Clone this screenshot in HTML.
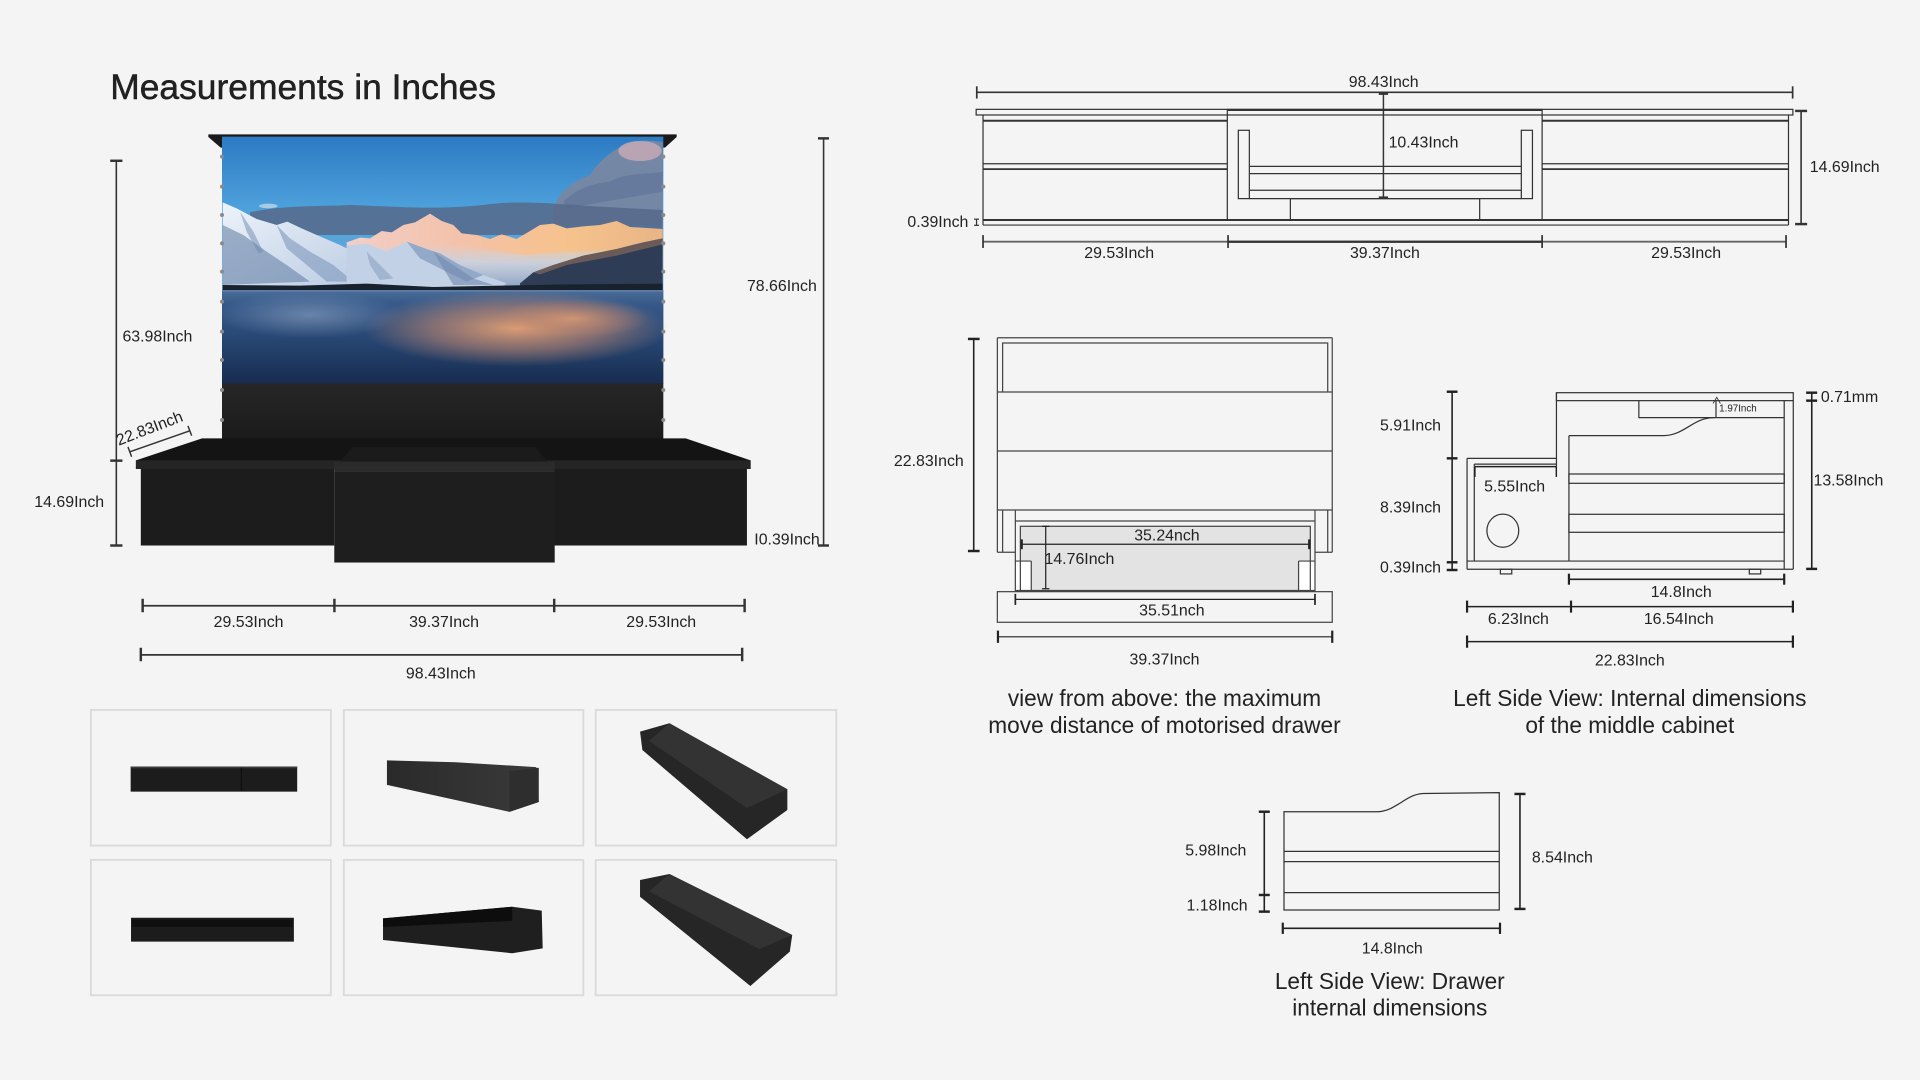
<!DOCTYPE html>
<html><head><meta charset="utf-8"><style>
html,body{margin:0;padding:0;background:#f4f4f4;}
svg{display:block;}
text{font-family:"Liberation Sans",sans-serif;fill:#222;}
</style></head><body>
<svg width="1920" height="1080" viewBox="0 0 1568 882" xmlns="http://www.w3.org/2000/svg">
<defs>
<linearGradient id="sky" x1="0" y1="0" x2="0" y2="1">
<stop offset="0" stop-color="#2c7bc3"/><stop offset="0.3" stop-color="#4ea2dc"/><stop offset="0.6" stop-color="#6aaad8"/><stop offset="1" stop-color="#8fb3d3"/></linearGradient>
<linearGradient id="water" x1="0" y1="0" x2="0" y2="1">
<stop offset="0" stop-color="#4a6d98"/><stop offset="0.15" stop-color="#36598a"/><stop offset="0.6" stop-color="#24426e"/><stop offset="1" stop-color="#182c4e"/></linearGradient>
<radialGradient id="refl" cx="0.5" cy="0.5" r="0.5">
<stop offset="0" stop-color="#f0a672" stop-opacity="0.9"/><stop offset="0.55" stop-color="#c98a6e" stop-opacity="0.55"/><stop offset="1" stop-color="#c98a6e" stop-opacity="0"/></radialGradient>
<radialGradient id="refl2" cx="0.5" cy="0.5" r="0.5">
<stop offset="0" stop-color="#9fb4d0" stop-opacity="0.5"/><stop offset="1" stop-color="#9fb4d0" stop-opacity="0"/></radialGradient>
<linearGradient id="lit" x1="0" y1="0" x2="1" y2="0">
<stop offset="0" stop-color="#f1cfc8"/><stop offset="0.35" stop-color="#f4c2aa"/><stop offset="0.7" stop-color="#f6c28c"/><stop offset="1" stop-color="#e9b586"/></linearGradient>
<linearGradient id="shade" x1="0" y1="0" x2="0" y2="1">
<stop offset="0" stop-color="#c9d7ea" stop-opacity="0"/><stop offset="0.45" stop-color="#c3d2e6" stop-opacity="0.85"/><stop offset="1" stop-color="#8ea6c6" stop-opacity="1"/></linearGradient>
<linearGradient id="snow" x1="0" y1="0" x2="1" y2="1">
<stop offset="0" stop-color="#eef3fa"/><stop offset="1" stop-color="#b4c7e0"/></linearGradient>
<linearGradient id="fab" x1="0" y1="0" x2="0" y2="1">
<stop offset="0" stop-color="#262626"/><stop offset="1" stop-color="#1a1a1a"/></linearGradient>
<linearGradient id="t2" x1="0" y1="0" x2="1" y2="0">
<stop offset="0" stop-color="#2a2a2a"/><stop offset="1" stop-color="#3a3a3a"/></linearGradient>
</defs>
<rect width="1568" height="882" fill="#f4f4f4"/>

<text x="90" y="81" font-size="28.5" textLength="315" lengthAdjust="spacingAndGlyphs" fill="#111" stroke="#111" stroke-width="0.35">Measurements in Inches</text>

<!-- Screen picture (zoom coords) -->
<g transform="translate(163.33,102.08) scale(0.27222)">
<polygon points="25,28 1430,28 1430,36 1395,68 62,68 25,36" fill="#1a1a1a"/>
<rect x="66" y="35" width="1324" height="742" fill="url(#sky)"/>
<!-- clouds -->
<path d="M1060,260 C1070,200 1120,170 1170,150 C1200,100 1260,60 1300,50 C1340,45 1370,48 1388,52 L1388,300 L1060,300 Z" fill="#7488a6"/>
<path d="M1090,230 C1130,190 1180,175 1230,170 C1280,140 1340,150 1388,140 L1388,200 L1100,250 Z" fill="#60759a" opacity="0.7"/>
<ellipse cx="1320" cy="78" rx="65" ry="30" fill="#cfaeb6" opacity="0.75"/>
<path d="M150,262 C250,240 350,245 450,240 C600,245 700,255 850,240 C950,225 1050,235 1200,245 L1388,255 L1388,330 L150,330 Z" fill="#56698a" opacity="0.85"/>
<ellipse cx="205" cy="243" rx="28" ry="7" fill="#cfdcec" opacity="0.7"/>
<!-- left mountain -->
<path d="M68,232 L110,250 L170,282 L230,300 L262,290 L300,308 L350,330 L420,360 L470,385 L520,420 L560,455 L600,485 L68,492 Z" fill="url(#snow)"/>
<path d="M68,300 L130,330 L200,380 L260,420 L330,470 L68,480 Z" fill="#5f7aa0" opacity="0.55"/>
<path d="M230,300 L270,340 L330,380 L400,420 L460,470 L380,470 L320,420 L260,370 Z" fill="#7e98bc" opacity="0.6"/>
<path d="M120,260 L160,320 L190,380 L175,385 L140,320 Z" fill="#6e89b0" opacity="0.5"/>
<!-- lit range -->
<path d="M440,352 L480,338 L510,340 L545,318 L575,322 L610,300 L645,292 L690,266 L725,288 L760,300 L785,325 L830,330 L870,342 L905,328 L950,342 L990,318 L1020,300 L1060,296 L1100,310 L1150,304 L1200,300 L1250,288 L1290,306 L1388,312 L1388,430 L980,470 L900,485 L600,485 L440,485 Z" fill="url(#lit)"/>
<path d="M440,380 L520,370 L600,360 L700,355 L800,365 L900,380 L980,390 L1100,380 L1388,370 L1388,485 L440,485 Z" fill="url(#shade)"/>
<path d="M440,362 L500,356 L560,380 L620,350 L680,372 L720,385 L780,420 L850,450 L920,475 L900,490 L440,490 Z" fill="#c2d1e6"/>
<path d="M620,350 L680,372 L720,385 L780,420 L850,450 L800,470 L720,430 L660,400 Z" fill="#7f98bb" opacity="0.7"/>
<path d="M700,380 L760,420 L820,460 L880,480 L760,480 Z" fill="#6f88ae" opacity="0.6"/>
<path d="M500,380 L540,420 L580,460 L540,465 L510,420 Z" fill="#8aa2c3" opacity="0.6"/>
<!-- right dark mountain -->
<path d="M960,475 L1000,442 L1060,420 L1150,392 L1250,372 L1330,352 L1388,340 L1388,495 L960,495 Z" fill="#2e3d55"/>
<path d="M1000,442 L1060,420 L1150,392 L1250,372 L1330,352 L1388,340 L1388,358 L1250,392 L1100,420 L1020,448 Z" fill="#8a6a5a" opacity="0.65"/>
<!-- tree line -->
<path d="M68,480 L300,482 L500,476 L700,486 L900,482 L1100,478 L1388,476 L1388,497 L68,497 Z" fill="#18222f"/>
<!-- water -->
<rect x="66" y="495" width="1324" height="282" fill="url(#water)"/>
<rect x="66" y="495" width="1324" height="6" fill="#6b84a8" opacity="0.6"/>
<ellipse cx="330" cy="570" rx="280" ry="70" fill="url(#refl2)"/>
<ellipse cx="950" cy="610" rx="460" ry="115" fill="url(#refl)"/>
<ellipse cx="1120" cy="580" rx="230" ry="60" fill="url(#refl)" opacity="0.7"/>
<!-- lower fabric -->
<rect x="66" y="775" width="1324" height="182" fill="url(#fab)"/>
<g fill="#8a8a8a">
<circle cx="66" cy="95" r="6"/><circle cx="66" cy="185" r="6"/><circle cx="66" cy="270" r="6"/><circle cx="66" cy="355" r="6"/><circle cx="66" cy="440" r="6"/><circle cx="66" cy="530" r="6"/><circle cx="66" cy="620" r="6"/><circle cx="66" cy="705" r="6"/><circle cx="66" cy="795" r="6"/><circle cx="66" cy="885" r="6"/>
<circle cx="1390" cy="95" r="6"/><circle cx="1390" cy="185" r="6"/><circle cx="1390" cy="270" r="6"/><circle cx="1390" cy="355" r="6"/><circle cx="1390" cy="440" r="6"/><circle cx="1390" cy="530" r="6"/><circle cx="1390" cy="620" r="6"/><circle cx="1390" cy="705" r="6"/><circle cx="1390" cy="795" r="6"/><circle cx="1390" cy="885" r="6"/>
</g>
</g>

<!-- Cabinet -->
<polygon points="111,376 165,358 560,358 613,376 613,383 111,383" fill="#141414"/>
<rect x="111" y="376" width="502" height="7" fill="#252525"/>
<rect x="115" y="383" width="158" height="62.5" fill="#1c1c1c"/>
<rect x="452.6" y="383" width="157.4" height="62.5" fill="#1c1c1c"/>
<polygon points="288,365 437,365 447,377 278,377" fill="#1b1b1b"/>
<rect x="273" y="377" width="180" height="8" fill="#2b2b2b"/>
<rect x="273" y="385" width="180" height="74.4" fill="#1e1e1e"/>

<!-- Left dims -->
<g stroke="#333" fill="none">
<line x1="95" y1="131.3" x2="95" y2="445.5" stroke-width="1.3"/>
<line x1="90" y1="131.3" x2="100" y2="131.3" stroke-width="2"/>
<line x1="90" y1="376.2" x2="100" y2="376.2" stroke-width="2"/>
<line x1="90" y1="445.5" x2="100" y2="445.5" stroke-width="2"/>
<line x1="672.6" y1="113" x2="672.6" y2="445.5" stroke-width="1.3"/>
<line x1="668" y1="113" x2="677" y2="113" stroke-width="2"/>
<line x1="668" y1="445.5" x2="677" y2="445.5" stroke-width="2"/>
<line x1="106" y1="369" x2="155" y2="351.8" stroke-width="1.2"/>
<line x1="104.5" y1="365" x2="107.5" y2="373" stroke-width="1.2"/>
<line x1="153.5" y1="347.8" x2="156.5" y2="355.8" stroke-width="1.2"/>
<line x1="116.5" y1="494.7" x2="608.1" y2="494.7" stroke-width="1.5"/>
<line x1="116.5" y1="489" x2="116.5" y2="500" stroke-width="2"/>
<line x1="273.1" y1="489" x2="273.1" y2="500" stroke-width="2"/>
<line x1="452.6" y1="489" x2="452.6" y2="500" stroke-width="2"/>
<line x1="608.1" y1="489" x2="608.1" y2="500" stroke-width="2"/>
<line x1="115" y1="534.8" x2="606.1" y2="534.8" stroke-width="1.5"/>
<line x1="115" y1="529" x2="115" y2="540" stroke-width="2"/>
<line x1="606.1" y1="529" x2="606.1" y2="540" stroke-width="2"/>
</g>
<g font-size="13">
<text x="100" y="279">63.98Inch</text>
<text x="28" y="414">14.69Inch</text>
<text x="610" y="237.5">78.66Inch</text>
<text x="616" y="444.5">I0.39Inch</text>
<text x="97" y="364" transform="rotate(-21 97 364)">22.83Inch</text>
<text x="203" y="512" text-anchor="middle">29.53Inch</text>
<text x="362.6" y="512" text-anchor="middle">39.37Inch</text>
<text x="540" y="512" text-anchor="middle">29.53Inch</text>
<text x="360" y="554" text-anchor="middle">98.43Inch</text>
</g>

<!-- Thumbnails -->
<g fill="#f4f4f4" stroke="#dadada" stroke-width="1.5">
<rect x="74.2" y="579.8" width="196" height="110.8"/>
<rect x="280.8" y="579.8" width="195.6" height="110.8"/>
<rect x="486.5" y="579.8" width="196.5" height="110.8"/>
<rect x="74.2" y="702.3" width="196" height="110.5"/>
<rect x="280.8" y="702.3" width="195.6" height="110.5"/>
<rect x="486.5" y="702.3" width="196.5" height="110.5"/>
</g>
<rect x="106.7" y="626" width="136" height="20.5" fill="#1c1c1c"/>
<rect x="106.7" y="626" width="136" height="1.5" fill="#3a3a3a"/>
<line x1="197" y1="627" x2="197" y2="646" stroke="#0c0c0c" stroke-width="0.8"/>
<polygon points="316,621 372,622.5 438,626.5 440,655 416,663 316,641" fill="url(#t2)"/>
<polygon points="416,630 440,627 440,655 416,663" fill="#2e2e2e"/>
<polygon points="522.7,597.5 546.7,590.7 643,644.6 643,661.5 610,685.4 524.6,612.5" fill="#262626"/>
<polygon points="546.7,590.7 643,644.6 610,660 530,605" fill="#333"/>
<rect x="107" y="749.5" width="133" height="19.5" fill="#1c1c1c"/>
<rect x="108" y="751" width="131" height="6" fill="#101010"/>
<polygon points="312.8,750 418.3,740.5 442.4,743.7 443.2,774.5 418.3,778.5 312.8,767.7" fill="#1f1f1f"/>
<polygon points="312.8,750 418.3,740.5 418.3,752 312.8,757" fill="#0d0d0d"/>
<polygon points="522.7,718.7 546.7,713.8 647,763.6 645,777.2 612.8,805.2 522.7,732.3" fill="#262626"/>
<polygon points="546.7,713.8 647,763.6 620,775 530,728" fill="#333"/>

<!-- Top right elevation -->
<g stroke="#333" stroke-width="1" fill="none">
<rect x="797.2" y="89.3" width="667" height="4.6"/>
<line x1="802.8" y1="93.9" x2="802.8" y2="183.8"/>
<line x1="1460.6" y1="93.9" x2="1460.6" y2="183.8"/>
<line x1="802.8" y1="98.6" x2="1002.3" y2="98.6" stroke-width="1.6"/>
<line x1="1259.4" y1="98.6" x2="1460.6" y2="98.6" stroke-width="1.6"/>
<line x1="802.8" y1="133.7" x2="1002.3" y2="133.7"/>
<line x1="802.8" y1="138.1" x2="1002.3" y2="138.1" stroke-width="1.4"/>
<line x1="1259.4" y1="133.7" x2="1460.6" y2="133.7"/>
<line x1="1259.4" y1="138.1" x2="1460.6" y2="138.1" stroke-width="1.4"/>
<line x1="802.8" y1="179.7" x2="1460.6" y2="179.7" stroke-width="1.6"/>
<line x1="802.8" y1="183.8" x2="1460.6" y2="183.8"/>
<line x1="1002.3" y1="89.8" x2="1259.4" y2="89.8" stroke-width="1.8"/>
<line x1="1002.3" y1="89.3" x2="1002.3" y2="179.7"/>
<line x1="1259.4" y1="89.3" x2="1259.4" y2="179.7"/>
<rect x="1011.3" y="106.4" width="9" height="55.8"/>
<rect x="1242.4" y="106.4" width="9.1" height="55.8"/>
<line x1="1020.3" y1="135.9" x2="1242.4" y2="135.9"/>
<line x1="1020.3" y1="141.8" x2="1242.4" y2="141.8"/>
<line x1="1020.3" y1="155.4" x2="1242.4" y2="155.4"/>
<line x1="1020.3" y1="162.2" x2="1242.4" y2="162.2"/>
<rect x="1053.8" y="162.2" width="154.6" height="17.5"/>
</g>
<g stroke="#333" fill="none">
<line x1="797.7" y1="75.4" x2="1464" y2="75.4" stroke-width="1.3"/>
<line x1="797.7" y1="70.5" x2="797.7" y2="80.5" stroke-width="1.4"/>
<line x1="1464" y1="70.5" x2="1464" y2="80.5" stroke-width="1.4"/>
<line x1="1129.8" y1="76.5" x2="1129.8" y2="161.4" stroke-width="1.2"/>
<line x1="1126" y1="76.5" x2="1133.6" y2="76.5" stroke-width="2"/>
<line x1="1126" y1="161.4" x2="1133.6" y2="161.4" stroke-width="2"/>
<line x1="1470.9" y1="90.6" x2="1470.9" y2="183" stroke-width="1.3"/>
<line x1="1466" y1="90.6" x2="1475.8" y2="90.6" stroke-width="2"/>
<line x1="1466" y1="183" x2="1475.8" y2="183" stroke-width="2"/>
<line x1="797.5" y1="179" x2="797.5" y2="184" stroke-width="1"/>
<line x1="795.5" y1="179" x2="799.5" y2="179" stroke-width="1"/>
<line x1="795.5" y1="184" x2="799.5" y2="184" stroke-width="1"/>
<line x1="802.8" y1="197.4" x2="1458.6" y2="197.4" stroke-width="1.5" stroke="#666"/>
<line x1="1002.9" y1="197.4" x2="1259.4" y2="197.4" stroke-width="1.8" stroke="#333"/>
<line x1="802.8" y1="192" x2="802.8" y2="202.5" stroke-width="1.4"/>
<line x1="1002.9" y1="192" x2="1002.9" y2="202.5" stroke-width="1.4"/>
<line x1="1259.4" y1="192" x2="1259.4" y2="202.5" stroke-width="1.4"/>
<line x1="1458.6" y1="192" x2="1458.6" y2="202.5" stroke-width="1.4"/>
</g>
<g font-size="13">
<text x="1130" y="71" text-anchor="middle">98.43Inch</text>
<text x="1134" y="120.5">10.43Inch</text>
<text x="1478" y="140.5">14.69Inch</text>
<text x="741" y="185.5">0.39Inch</text>
<text x="914" y="210.5" text-anchor="middle">29.53Inch</text>
<text x="1131" y="210.5" text-anchor="middle">39.37Inch</text>
<text x="1377" y="210.5" text-anchor="middle">29.53Inch</text>
</g>

<!-- Middle: view from above -->
<rect x="833.3" y="429.8" width="236.8" height="52.6" fill="#e3e3e3"/>
<rect x="829.2" y="458.2" width="13" height="24.2" fill="#ffffff"/>
<rect x="1060.5" y="458.2" width="13.4" height="24.2" fill="#ffffff"/>
<g stroke="#444" stroke-width="1" fill="none">
<line x1="814.5" y1="275.8" x2="1088" y2="275.8"/>
<line x1="814.5" y1="275.8" x2="814.5" y2="451"/>
<line x1="1088" y1="275.8" x2="1088" y2="451"/>
<polyline points="818.8,320.1 818.8,280.1 1084.3,280.1 1084.3,320.1"/>
<line x1="814.5" y1="320.1" x2="1088" y2="320.1"/>
<line x1="814.5" y1="368.3" x2="1088" y2="368.3"/>
<line x1="814.5" y1="416.5" x2="1088" y2="416.5"/>
<line x1="818.8" y1="416.5" x2="818.8" y2="451"/>
<line x1="1084.3" y1="416.5" x2="1084.3" y2="451"/>
<line x1="814.5" y1="451" x2="829.2" y2="451"/>
<line x1="1073.9" y1="451" x2="1088" y2="451"/>
<line x1="829.2" y1="416.5" x2="829.2" y2="483.2"/>
<line x1="1073.9" y1="416.5" x2="1073.9" y2="483.2"/>
<line x1="829.2" y1="425.5" x2="1073.9" y2="425.5"/>
<rect x="833.3" y="429.8" width="236.8" height="52.6"/>
<line x1="829.2" y1="458.2" x2="842.2" y2="458.2"/>
<line x1="842.2" y1="458.2" x2="842.2" y2="482.4"/>
<line x1="1060.5" y1="458.2" x2="1073.9" y2="458.2"/>
<line x1="1060.5" y1="458.2" x2="1060.5" y2="482.4"/>
<line x1="829.2" y1="482.4" x2="1073.9" y2="482.4" stroke-width="1.4"/>
<rect x="814.5" y="483.2" width="273.5" height="25"/>
</g>
<g stroke="#222" fill="none">
<line x1="795.2" y1="276.8" x2="795.2" y2="450" stroke-width="1.3"/>
<line x1="790.5" y1="276.8" x2="800" y2="276.8" stroke-width="2"/>
<line x1="790.5" y1="450" x2="800" y2="450" stroke-width="2"/>
<line x1="834.4" y1="444.5" x2="1069.2" y2="444.5" stroke-width="1"/>
<line x1="834.4" y1="440.5" x2="834.4" y2="448.5" stroke-width="1.8"/>
<line x1="1069.2" y1="440.5" x2="1069.2" y2="448.5" stroke-width="1.8"/>
<line x1="854" y1="429.8" x2="854" y2="480.8" stroke-width="1"/>
<line x1="851" y1="429.8" x2="857" y2="429.8" stroke-width="1"/>
<line x1="851" y1="480.8" x2="857" y2="480.8" stroke-width="1"/>
<line x1="829.2" y1="489.5" x2="1073.9" y2="489.5" stroke-width="1"/>
<line x1="829.2" y1="485" x2="829.2" y2="494" stroke-width="1.4"/>
<line x1="1073.9" y1="485" x2="1073.9" y2="494" stroke-width="1.4"/>
<line x1="815" y1="520" x2="1088" y2="520" stroke-width="1.3" stroke="#555"/>
<line x1="815" y1="515" x2="815" y2="525" stroke-width="1.8"/>
<line x1="1088" y1="515" x2="1088" y2="525" stroke-width="1.8"/>
</g>
<g font-size="13">
<text x="730" y="380.5">22.83Inch</text>
<text x="953" y="441.5" text-anchor="middle">35.24nch</text>
<text x="853" y="460.5">14.76Inch</text>
<text x="957" y="502.5" text-anchor="middle">35.51nch</text>
<text x="951" y="542.5" text-anchor="middle">39.37Inch</text>
</g>
<g font-size="18.5" text-anchor="middle" fill="#111">
<text x="951" y="576.5">view from above: the maximum</text>
<text x="951" y="598.5">move distance of motorised drawer</text>
</g>

<!-- Right: left side view middle cabinet -->
<g stroke="#333" stroke-width="1" fill="none">
<line x1="1198.1" y1="374.3" x2="1198.1" y2="464.9"/>
<line x1="1204" y1="379" x2="1204" y2="458.2"/>
<line x1="1198.1" y1="374.3" x2="1271.1" y2="374.3"/>
<line x1="1204" y1="379" x2="1271.1" y2="379"/>
<line x1="1271.1" y1="320.7" x2="1271.1" y2="381"/>
<rect x="1271.1" y="320.7" width="193.4" height="6.5"/>
<line x1="1464.5" y1="327.2" x2="1464.5" y2="464.9"/>
<line x1="1457.1" y1="327.2" x2="1457.1" y2="464.9"/>
<line x1="1281.3" y1="355.8" x2="1281.3" y2="458.2"/>
<path d="M1281.3,355.8 H1358.6 C1375,355.8 1383,341.1 1399.4,341.1 H1457.1"/>
<polyline points="1338.4,327.2 1338.4,341.1 1400,341.1"/>
<rect x="1281.3" y="387.1" width="175.8" height="7.6"/>
<rect x="1281.3" y="420" width="175.8" height="14.7"/>
<line x1="1198.1" y1="458.2" x2="1457.1" y2="458.2"/>
<line x1="1198.1" y1="464.9" x2="1464.5" y2="464.9"/>
<rect x="1225.3" y="464.9" width="9.3" height="3.8"/>
<rect x="1428.6" y="464.9" width="9.3" height="3.8"/>
<ellipse cx="1227.3" cy="433.4" rx="13" ry="13.5"/>
<line x1="1401.4" y1="327.2" x2="1401.4" y2="341.1"/>
<polyline points="1399,329.5 1402,324.5 1405,329.5" stroke-width="0.7"/>
</g>
<g stroke="#222" fill="none">
<line x1="1204.5" y1="381.1" x2="1271" y2="381.1" stroke-width="1.2"/>
<line x1="1204.5" y1="381.1" x2="1204.5" y2="389.5" stroke-width="1.2"/>
<line x1="1271" y1="381.1" x2="1271" y2="389.5" stroke-width="1.2"/>
<line x1="1185.9" y1="319.9" x2="1185.9" y2="465.5" stroke-width="1.3"/>
<line x1="1181.5" y1="319.9" x2="1190.3" y2="319.9" stroke-width="2"/>
<line x1="1181.5" y1="374.3" x2="1190.3" y2="374.3" stroke-width="2"/>
<line x1="1181.5" y1="459.2" x2="1190.3" y2="459.2" stroke-width="2"/>
<line x1="1181.5" y1="465.5" x2="1190.3" y2="465.5" stroke-width="2"/>
<line x1="1479.6" y1="320.7" x2="1479.6" y2="464.6" stroke-width="1.3"/>
<line x1="1475" y1="320.7" x2="1484" y2="320.7" stroke-width="2"/>
<line x1="1475" y1="327.2" x2="1484" y2="327.2" stroke-width="2"/>
<line x1="1475" y1="464.6" x2="1484" y2="464.6" stroke-width="2"/>
<line x1="1281.3" y1="473.1" x2="1457.1" y2="473.1" stroke-width="1.3"/>
<line x1="1281.3" y1="468.5" x2="1281.3" y2="477.5" stroke-width="1.8"/>
<line x1="1457.1" y1="468.5" x2="1457.1" y2="477.5" stroke-width="1.8"/>
<line x1="1198.1" y1="495.4" x2="1464.2" y2="495.4" stroke-width="1.3"/>
<line x1="1198.1" y1="490.5" x2="1198.1" y2="500.3" stroke-width="1.8"/>
<line x1="1283" y1="490.5" x2="1283" y2="500.3" stroke-width="1.8"/>
<line x1="1464.2" y1="490.5" x2="1464.2" y2="500.3" stroke-width="1.8"/>
<line x1="1198.1" y1="524" x2="1464.2" y2="524" stroke-width="1.3"/>
<line x1="1198.1" y1="519" x2="1198.1" y2="529" stroke-width="1.8"/>
<line x1="1464.2" y1="519" x2="1464.2" y2="529" stroke-width="1.8"/>
</g>
<g font-size="13">
<text x="1127" y="351.5">5.91Inch</text>
<text x="1127" y="418.5">8.39Inch</text>
<text x="1127" y="467.5">0.39Inch</text>
<text x="1212" y="401.5">5.55Inch</text>
<text x="1487" y="328.5">0.71mm</text>
<text x="1481" y="396.5">13.58Inch</text>
<text x="1373" y="487.5" text-anchor="middle">14.8Inch</text>
<text x="1240" y="509.5" text-anchor="middle">6.23Inch</text>
<text x="1371" y="509.5" text-anchor="middle">16.54Inch</text>
<text x="1331" y="543.5" text-anchor="middle">22.83Inch</text>
</g>
<text x="1404" y="336" font-size="8">1.97Inch</text>
<g font-size="18.5" text-anchor="middle" fill="#111">
<text x="1331" y="576.5">Left Side View: Internal dimensions</text>
<text x="1331" y="598.5">of the middle cabinet</text>
</g>

<!-- Bottom: drawer internal -->
<g stroke="#333" stroke-width="1" fill="none">
<path d="M1048.6,743.2 V662.9 H1124.3 C1140,662.9 1148,648.4 1162.4,648 L1224.4,647.3 V743.2 Z"/>
<line x1="1048.6" y1="695.3" x2="1224.4" y2="695.3"/>
<line x1="1048.6" y1="703.7" x2="1224.4" y2="703.7"/>
<line x1="1048.6" y1="729" x2="1224.4" y2="729"/>
</g>
<g stroke="#222" fill="none">
<line x1="1032.5" y1="662.9" x2="1032.5" y2="744.5" stroke-width="1.3"/>
<line x1="1028" y1="662.9" x2="1037" y2="662.9" stroke-width="2"/>
<line x1="1028" y1="730.9" x2="1037" y2="730.9" stroke-width="2"/>
<line x1="1028" y1="744.5" x2="1037" y2="744.5" stroke-width="2"/>
<line x1="1241.3" y1="648.4" x2="1241.3" y2="742.3" stroke-width="1.3"/>
<line x1="1236.8" y1="648.4" x2="1245.8" y2="648.4" stroke-width="2"/>
<line x1="1236.8" y1="742.3" x2="1245.8" y2="742.3" stroke-width="2"/>
<line x1="1047.6" y1="758.1" x2="1225" y2="758.1" stroke-width="1.3"/>
<line x1="1047.6" y1="753.5" x2="1047.6" y2="762.7" stroke-width="1.8"/>
<line x1="1225" y1="753.5" x2="1225" y2="762.7" stroke-width="1.8"/>
</g>
<g font-size="13">
<text x="968" y="698.5">5.98Inch</text>
<text x="969" y="743.5">1.18Inch</text>
<text x="1251" y="704.5">8.54Inch</text>
<text x="1137" y="778.5" text-anchor="middle">14.8Inch</text>
</g>
<g font-size="18.5" text-anchor="middle" fill="#111">
<text x="1135" y="807.5">Left Side View: Drawer</text>
<text x="1135" y="829.5">internal dimensions</text>
</g>
</svg>
</body></html>
